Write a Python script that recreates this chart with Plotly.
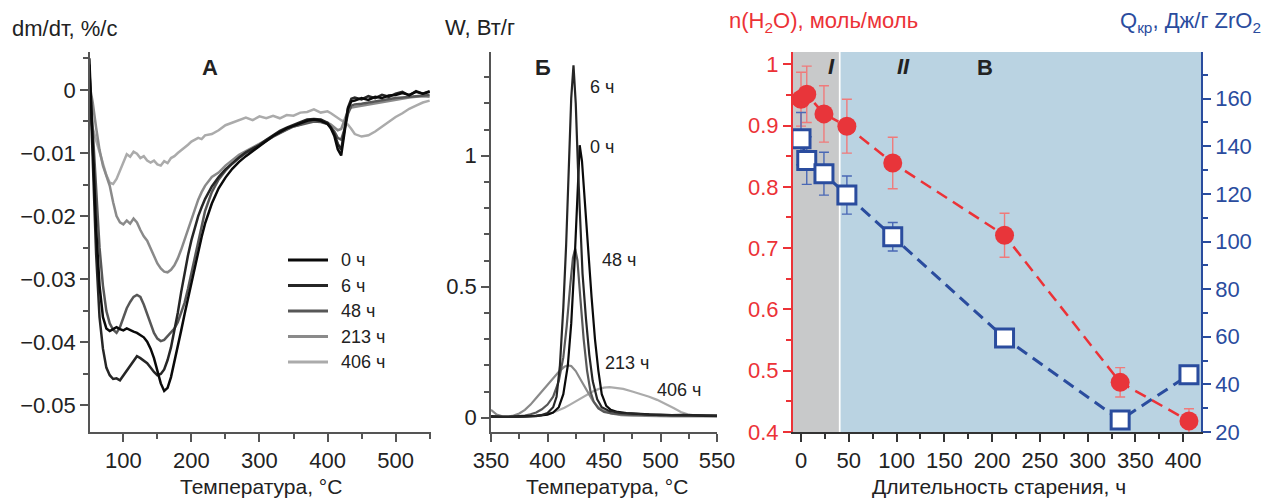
import plotly.graph_objects as go

FIG_W, FIG_H = 1271, 500
def PX(x):
    return x / FIG_W
def PY(y):
    return 1 - y / FIG_H

# ---------------- Panel A: DTG curves ----------------
T_A = [50, 55, 60, 65, 70, 75, 80, 85, 90, 95,
       100, 105, 110, 115, 120, 125, 130, 135, 140, 145,
       150, 155, 160, 165, 170, 175, 180, 185, 190, 195,
       200, 205, 210, 215, 220,
       230, 240, 250, 260, 270, 280, 290, 300, 310, 320, 330, 340, 350, 360, 370, 380, 390, 400,
       405, 410, 415, 420, 425, 430, 435,
       440, 450, 460, 470, 480, 490, 500, 510, 520, 530, 540, 550]

dtg_0h = [0.005, -0.010, -0.022, -0.031, -0.036, -0.0378, -0.0382, -0.0379, -0.0376, -0.0379,
          -0.0381, -0.0378, -0.0381, -0.0383, -0.0385, -0.0388, -0.0392, -0.0399, -0.0410, -0.0425,
          -0.0445, -0.0465, -0.0477, -0.0472, -0.0455, -0.0432, -0.0407, -0.0381, -0.0355, -0.0330,
          -0.0305, -0.0280, -0.0256, -0.0233, -0.0212,
          -0.0180, -0.0156, -0.0139, -0.0125, -0.0114, -0.0105, -0.0097, -0.0089, -0.0081, -0.0073, -0.0067, -0.0061, -0.0057, -0.0053, -0.0049, -0.0047, -0.0049, -0.0054,
          -0.0061, -0.0073, -0.0094, -0.0104, -0.0070, -0.0030, -0.0018,
          -0.0017, -0.0013, -0.0016, -0.0011, -0.0013, -0.0009, -0.0008, -0.0005, -0.0008, -0.0003, -0.0006, -0.0003]

dtg_6h = [0.004, -0.012, -0.026, -0.036, -0.041, -0.0440, -0.0452, -0.0458, -0.0457, -0.0460,
          -0.0452, -0.0446, -0.0436, -0.0428, -0.0422, -0.0425, -0.0429, -0.0433, -0.0440, -0.0447,
          -0.0452, -0.0450, -0.0443, -0.0428, -0.0408, -0.0383, -0.0353, -0.0320, -0.0290, -0.0262,
          -0.0238, -0.0218, -0.0200, -0.0186, -0.0173,
          -0.0153, -0.0138, -0.0126, -0.0116, -0.0107, -0.0099, -0.0093, -0.0087, -0.0079, -0.0072, -0.0065, -0.0060, -0.0055, -0.0051, -0.0047, -0.0046, -0.0047, -0.0052,
          -0.0060, -0.0070, -0.0085, -0.0095, -0.0062, -0.0028, -0.0014,
          -0.0012, -0.0015, -0.0010, -0.0013, -0.0008, -0.0011, -0.0006, -0.0003, -0.0009, -0.0002, -0.0006, -0.0002]

dtg_48h = [0.003, -0.006, -0.016, -0.025, -0.031, -0.035, -0.0370, -0.0380, -0.0385, -0.0376,
           -0.0361, -0.0346, -0.0336, -0.0328, -0.0325, -0.0328, -0.0340, -0.0355, -0.0370, -0.0385,
           -0.0394, -0.0398, -0.0396, -0.0390, -0.0384, -0.0378, -0.0368, -0.0354, -0.0337, -0.0315,
           -0.0290, -0.0263, -0.0237, -0.0213, -0.0192,
           -0.0162, -0.0142, -0.0128, -0.0117, -0.0108, -0.0100, -0.0094, -0.0088, -0.0081, -0.0074, -0.0068, -0.0063, -0.0058, -0.0055, -0.0052, -0.0050, -0.0051, -0.0054,
           -0.0059, -0.0066, -0.0076, -0.0079, -0.0062, -0.0038, -0.0025,
           -0.0023, -0.0022, -0.0020, -0.0019, -0.0017, -0.0015, -0.0013, -0.0012, -0.0011, -0.0010, -0.0009, -0.0008]

dtg_213h = [0.001, -0.002, -0.006, -0.0095, -0.012, -0.0138, -0.0152, -0.0178, -0.0200, -0.0210,
            -0.0213, -0.0207, -0.0212, -0.0204, -0.0210, -0.0222, -0.0232, -0.0239, -0.0252, -0.0265,
            -0.0275, -0.0283, -0.0288, -0.0289, -0.0285, -0.0278, -0.0267, -0.0253, -0.0237, -0.0219,
            -0.0203, -0.0188, -0.0174, -0.0162, -0.0152,
            -0.0138, -0.0131, -0.0120, -0.0112, -0.0103, -0.0097, -0.0091, -0.0085, -0.0079, -0.0073, -0.0068, -0.0063, -0.0058, -0.0055, -0.0051, -0.0049, -0.0050, -0.0052,
            -0.0055, -0.0059, -0.0064, -0.0062, -0.0046, -0.0033, -0.0028,
            -0.0027, -0.0025, -0.0023, -0.0021, -0.0019, -0.0017, -0.0015, -0.0013, -0.0012, -0.0011, -0.0010, -0.0011]

dtg_406h = [-0.0045, -0.0060, -0.0080, -0.0098, -0.0118, -0.0135, -0.0147, -0.0149, -0.0141, -0.0128,
            -0.0114, -0.0102, -0.0106, -0.0098, -0.0101, -0.0108, -0.0105, -0.0112, -0.0115, -0.0112,
            -0.0118, -0.0120, -0.0113, -0.0116, -0.0108, -0.0105, -0.0100, -0.0096, -0.0092, -0.0087,
            -0.0082, -0.0079, -0.0076, -0.0078, -0.0072,
            -0.0070, -0.0064, -0.0056, -0.0052, -0.0047, -0.0044, -0.0048, -0.0042, -0.0045, -0.0041, -0.0045, -0.0040, -0.0041, -0.0036, -0.0035, -0.0031, -0.0036, -0.0034,
            -0.0037, -0.0041, -0.0044, -0.0048, -0.0051, -0.0055, -0.0062,
            -0.0070, -0.0074, -0.0072, -0.0066, -0.0058, -0.0050, -0.0043, -0.0037, -0.0030, -0.0025, -0.0020, -0.0017]

labels_A = ["0 ч", "6 ч", "48 ч", "213 ч", "406 ч"]
colors_A = ["#0a0a0a", "#262626", "#575757", "#8a8a8a", "#ababab"]

# ---------------- Panel Б: DSC peaks ----------------
T_B0 = [350, 360, 370, 380, 390, 400, 405, 410, 414, 418, 421, 424, 426.5, 428.5, 430.5, 433, 436, 439, 442, 445, 448, 452, 456, 462, 470, 480, 490, 500, 510, 520, 530, 540, 550]
W_0 = [0.005, 0.003, 0.004, 0.005, 0.007, 0.012, 0.02, 0.04, 0.09, 0.2, 0.36, 0.6, 0.88, 1.04, 0.98, 0.82, 0.64, 0.46, 0.3, 0.18, 0.09, 0.045, 0.03, 0.022, 0.018, 0.015, 0.013, 0.012, 0.01, 0.011, 0.009, 0.008, 0.008]

T_B6 = [350, 360, 370, 380, 390, 395, 400, 405, 408, 411, 414, 416.5, 419, 421, 423, 425, 427, 429, 431, 434, 437, 440, 444, 448, 455, 465, 480, 500, 520, 550]
W_6 = [0.003, 0.002, 0.003, 0.004, 0.006, 0.01, 0.018, 0.04, 0.08, 0.2, 0.42, 0.66, 0.98, 1.22, 1.345, 1.2, 0.95, 0.72, 0.55, 0.38, 0.24, 0.14, 0.07, 0.04, 0.025, 0.018, 0.014, 0.01, 0.01, 0.008]

T_B48 = [350, 360, 370, 380, 385, 390, 395, 400, 405, 410, 414, 417, 420, 422.5, 424.5, 426.5, 429, 432, 435, 438, 441, 445, 450, 458, 470, 490, 510, 530, 550]
W_48 = [0.005, 0.003, 0.004, 0.008, 0.013, 0.02, 0.032, 0.05, 0.08, 0.14, 0.23, 0.35, 0.5, 0.61, 0.645, 0.6, 0.46, 0.3, 0.18, 0.1, 0.06, 0.035, 0.022, 0.015, 0.012, 0.01, 0.008, 0.007, 0.006]

T_B213 = [350, 355, 360, 365, 370, 375, 380, 385, 390, 395, 400, 405, 410, 415, 418, 421, 425, 430, 435, 440, 445, 450, 456, 465, 475, 490, 510, 530, 550]
W_213 = [0.03, 0.012, 0.005, 0.004, 0.008, 0.016, 0.03, 0.05, 0.075, 0.1, 0.125, 0.15, 0.175, 0.195, 0.2, 0.197, 0.178, 0.14, 0.1, 0.065, 0.04, 0.026, 0.016, 0.01, 0.008, 0.006, 0.005, 0.005, 0.005]

T_B406 = [350, 360, 370, 380, 390, 398, 405, 410, 415, 420, 425, 430, 435, 440, 445, 450, 455, 460, 467, 475, 483, 490, 497, 505, 512, 518, 524, 530, 540, 550]
W_406 = [0.006, 0.004, 0.003, 0.004, 0.007, 0.012, 0.02, 0.028, 0.038, 0.05, 0.063, 0.077, 0.09, 0.1, 0.109, 0.115, 0.117, 0.115, 0.11, 0.1, 0.09, 0.08, 0.068, 0.052, 0.036, 0.022, 0.013, 0.009, 0.007, 0.006]

# ---------------- Panel В: aging ----------------
aging_h = [0, 6, 24, 48, 96, 213, 334, 406]
n_h2o = [0.943, 0.951, 0.919, 0.899, 0.839, 0.721, 0.481, 0.418]
n_h2o_err = [0.044, 0.046, 0.046, 0.044, 0.042, 0.036, 0.024, 0.02]
q_cr = [143.2, 134.0, 128.5, 119.5, 102.0, 59.5, 25.0, 44.0]
q_cr_err = [11, 10, 9, 8, 6, 0, 0, 0]
stage_I = [-8.7, 39.6]
stage_II = [41.4, 418.6]

RED = "#ec3237"
BLUE = "#2a4c9e"
AX = "#555555"
FONT = "Arial, Liberation Sans, sans-serif"

fig = go.Figure()

for ys, c in zip([dtg_406h, dtg_213h, dtg_48h, dtg_6h, dtg_0h], colors_A[::-1]):
    fig.add_trace(go.Scatter(x=T_A, y=ys, mode="lines", line=dict(color=c, width=2.5),
                             xaxis="x", yaxis="y", showlegend=False, hoverinfo="skip"))

for xs, ys, c in zip([T_B406, T_B213, T_B48, T_B0, T_B6],
                     [W_406, W_213, W_48, W_0, W_6],
                     ["#ababab", "#8a8a8a", "#575757", "#0a0a0a", "#262626"]):
    fig.add_trace(go.Scatter(x=xs, y=ys, mode="lines", line=dict(color=c, width=2.2),
                             xaxis="x2", yaxis="y2", showlegend=False, hoverinfo="skip"))

fig.add_trace(go.Scatter(x=aging_h, y=n_h2o, mode="lines+markers", xaxis="x3", yaxis="y3",
                         line=dict(color=RED, width=2.5, dash="12px,7px"),
                         marker=dict(symbol="circle", size=19, color="#e8353a"),
                         error_y=dict(type="data", array=n_h2o_err, color="#f07a7a", thickness=1.4, width=5),
                         showlegend=False))
fig.add_trace(go.Scatter(x=aging_h, y=q_cr, mode="lines+markers", xaxis="x3", yaxis="y4",
                         line=dict(color=BLUE, width=3, dash="12px,7px"),
                         marker=dict(symbol="square", size=18, color="white", line=dict(color=BLUE, width=3)),
                         error_y=dict(type="data", array=q_cr_err, color="#4a68b5", thickness=1.4, width=5),
                         showlegend=False))

ydom = [PY(432), PY(52)]
tf = dict(family=FONT, size=22, color="#222222")

def axis_common(color=AX):
    return dict(showline=True, linecolor=color, linewidth=1.5, ticks="outside", ticklen=8,
                tickwidth=1.5, tickcolor=color, showgrid=False, zeroline=False, fixedrange=True,
                automargin=False)

fig.update_layout(
    template="none",
    width=FIG_W, height=FIG_H, autosize=False,
    margin=dict(l=0, r=0, t=0, b=0, pad=0),
    paper_bgcolor="white", plot_bgcolor="white",
    font=dict(family=FONT, size=22, color="#222222"),
    xaxis=dict(domain=[PX(90), PX(431)], range=[51, 552], anchor="y", tick0=100, dtick=100,
               tickfont=tf, minor=dict(tick0=50, dtick=50, ticks="outside", ticklen=5, tickcolor=AX, tickwidth=1.5),
               **axis_common()),
    yaxis=dict(domain=ydom, range=[-0.0542, 0.006], anchor="x", tick0=0, dtick=0.01,
               tickfont=tf, minor=dict(tick0=0, dtick=0.005, ticks="outside", ticklen=5, tickcolor=AX, tickwidth=1.5),
               **axis_common()),
    xaxis2=dict(domain=[PX(491), PX(717)], range=[350, 550], anchor="y2", tick0=350, dtick=50,
                tickfont=tf, minor=dict(tick0=350, dtick=25, ticks="outside", ticklen=5, tickcolor=AX, tickwidth=1.5),
                **axis_common()),
    yaxis2=dict(domain=ydom, range=[-0.0546, 1.396], anchor="x2", tick0=0, dtick=0.5,
                tickfont=tf, minor=dict(tick0=0, dtick=0.1, ticks="outside", ticklen=5, tickcolor=AX, tickwidth=1.5),
                **axis_common()),
    xaxis3=dict(domain=[PX(792.7), PX(1201)], range=[-8.7, 418.6], anchor="y3", tick0=0, dtick=50,
                tickfont=tf, minor=dict(tick0=0, dtick=25, ticks="outside", ticklen=5, tickcolor="#333", tickwidth=1.5),
                **axis_common("#333333")),
    yaxis3=dict(domain=ydom, range=[0.4, 1.02], anchor="x3", side="left", tick0=0.4, dtick=0.1,
                tickfont=dict(family=FONT, size=22, color=RED),
                minor=dict(tick0=0.4, dtick=0.05, ticks="outside", ticklen=5, tickcolor=RED, tickwidth=1.5),
                **axis_common(RED)),
    yaxis4=dict(domain=ydom, range=[20, 179.6], anchor="x3", overlaying="y3", side="right", tick0=20, dtick=20,
                tickfont=dict(family=FONT, size=22, color=BLUE),
                minor=dict(tick0=20, dtick=10, ticks="outside", ticklen=5, tickcolor=BLUE, tickwidth=1.5),
                **axis_common(BLUE)),
)

shapes = [
    dict(type="rect", xref="x3", yref="y3 domain", x0=stage_I[0], x1=stage_I[1], y0=0, y1=1,
         fillcolor="#c8c9ca", line=dict(width=0), layer="below"),
    dict(type="rect", xref="x3", yref="y3 domain", x0=stage_II[0], x1=stage_II[1], y0=0, y1=1,
         fillcolor="#bad3e2", line=dict(width=0), layer="below"),
]
# legend keys for panel A
leg_y = [260, 285.5, 311, 336.5, 362]
for yy, c in zip(leg_y, colors_A):
    shapes.append(dict(type="line", xref="paper", yref="paper", x0=PX(288), x1=PX(328), y0=PY(yy), y1=PY(yy),
                       line=dict(color=c, width=3)))
fig.update_layout(shapes=shapes)

ann = []
def text(x, y, s, size=22, color="#222222", xanchor="center", bold=False, italic=False):
    if bold:
        s = "<b>" + s + "</b>"
    if italic:
        s = "<i>" + s + "</i>"
    ann.append(dict(x=PX(x), y=PY(y), xref="paper", yref="paper", text=s, showarrow=False,
                    xanchor=xanchor, yanchor="middle", font=dict(family=FONT, size=size, color=color)))

for yy, lab in zip(leg_y, labels_A):
    text(339, yy, lab, size=18, xanchor="left")

text(10, 28, "dm/dт, %/с", xanchor="left")
text(443, 27, "W, Вт/г", xanchor="left")
text(727, 22, "n(H<sub>2</sub>O), моль/моль", color=RED, xanchor="left")
text(1263, 22, "Q<sub>кр</sub>, Дж/г ZrO<sub>2</sub>", color=BLUE, xanchor="right")
text(210, 67, "А", bold=True)
text(543, 67, "Б", bold=True)
text(831, 66, "I", bold=True, italic=True)
text(903, 66, "II", bold=True, italic=True)
text(985, 67, "В", bold=True)
text(261, 486, "Температура, °C", size=21)
text(607, 486, "Температура, °C", size=21)
text(999, 486, "Длительность старения, ч", size=21)

text(602, 87, "6 ч", size=18)
text(602, 147, "0 ч", size=18)
text(619, 260, "48 ч", size=18)
text(627, 363, "213 ч", size=18)
text(679, 390, "406 ч", size=18)

fig.update_layout(annotations=ann)
fig.write_html("out.html", config={"displayModeBar": False},
               post_script="document.body.style.margin='0';document.body.style.overflow='hidden';")
